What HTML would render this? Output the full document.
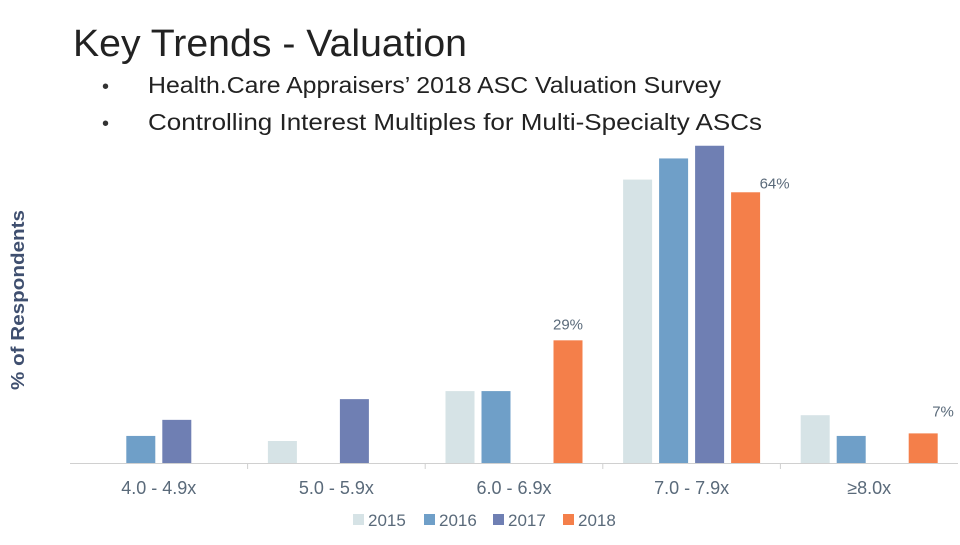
<!DOCTYPE html>
<html><head><meta charset="utf-8"><style>
body{margin:0;background:#fff;width:960px;height:540px;overflow:hidden;font-family:"Liberation Sans",sans-serif;}
</style></head><body>
<svg width="960" height="540" xmlns="http://www.w3.org/2000/svg">
<text x="73" y="56" font-size="38" fill="#222" textLength="394" lengthAdjust="spacingAndGlyphs">Key Trends - Valuation</text>
<text x="102" y="93" font-size="20" fill="#333">•</text>
<text x="148" y="93" font-size="23" fill="#222" textLength="573" lengthAdjust="spacingAndGlyphs">Health.Care Appraisers’ 2018 ASC Valuation Survey</text>
<text x="102" y="130" font-size="20" fill="#333">•</text>
<text x="148" y="130" font-size="23" fill="#222" textLength="614" lengthAdjust="spacingAndGlyphs">Controlling Interest Multiples for Multi-Specialty ASCs</text>
<text transform="translate(24,300) rotate(-90)" text-anchor="middle" font-size="18" font-weight="bold" fill="#3f4f6f" textLength="180" lengthAdjust="spacingAndGlyphs">% of Respondents</text>
<g id="bars"></g>
<line x1="70" y1="463.5" x2="958" y2="463.5" stroke="#d0d0d0"/>
<g id="legend"></g>
</svg>
<script>
const categories=["4.0 - 4.9x","5.0 - 5.9x","6.0 - 6.9x","7.0 - 7.9x","≥8.0x"];
const seriesNames=["2015","2016","2017","2018"];
const s2015=[0,5.2,17,67,11.3];
const s2016=[6.4,0,17,72,6.4];
const s2017=[10.2,15.1,0,75,0];
const s2018=[0,0,29,64,7];
const labels2018=["","","29%","64%","7%"];
const colors=["#d6e3e6","#6f9fc8","#6f7fb3","#f47f4a"];
const series=[s2015,s2016,s2017,s2018];
const NS="http://www.w3.org/2000/svg";
const base=463, ppu=4.23, x0=70, gw=177.6;
const yS=v=>base-v*ppu;
const xC=i=>x0+gw*(i+0.5);
const g=document.getElementById('bars');
function mk(t,a){const e=document.createElementNS(NS,t);for(const k in a)e.setAttribute(k,a[k]);return e;}
categories.forEach((c,i)=>{
  series.forEach((s,j)=>{
    if(s[i]<=0)return;
    const r=mk('rect',{x:xC(i)+(j-1.5)*36-14.5,y:yS(s[i]),width:29,height:base-yS(s[i]),fill:colors[j]});
    
    
    g.appendChild(r);
  });
  if(labels2018[i]){
    const t=mk('text',{x:xC(i)+1.5*36,y:yS(s2018[i])-5,'text-anchor':'middle','font-size':15,fill:'#5a6a7a'});
    if(i==3){t.setAttribute('x',xC(i)+1.5*36+14);t.setAttribute('text-anchor','start');t.setAttribute('y',yS(s2018[i])-4);}
    if(i==4){t.setAttribute('x',xC(i)+1.5*36+9);t.setAttribute('text-anchor','start');t.setAttribute('y',yS(s2018[i])-17);}
    if(i==2){t.setAttribute('y',yS(s2018[i])-11);}
    t.textContent=labels2018[i];
    
    
    g.appendChild(t);
  }
  const l=mk('text',{x:xC(i),y:494,'text-anchor':'middle','font-size':18,fill:'#5a6a7a'});
  l.textContent=c;
  
  
  g.appendChild(l);
  if(i>0){const tk=mk('line',{x1:x0+gw*i,x2:x0+gw*i,y1:463,y2:469,stroke:'#d0d0d0'});
    
    
    g.appendChild(tk);}
});
const lg=document.getElementById('legend');
const lx=[353,424,493,563];
seriesNames.forEach((n,j)=>{
  const r=mk('rect',{x:lx[j],y:514,width:11,height:11,fill:colors[j]});
  
  
  lg.appendChild(r);
  const t=mk('text',{x:lx[j]+15,y:526,'font-size':17,fill:'#5a6a7a'});
  t.textContent=n;
  
  
  lg.appendChild(t);
});
</script>
</body></html>
